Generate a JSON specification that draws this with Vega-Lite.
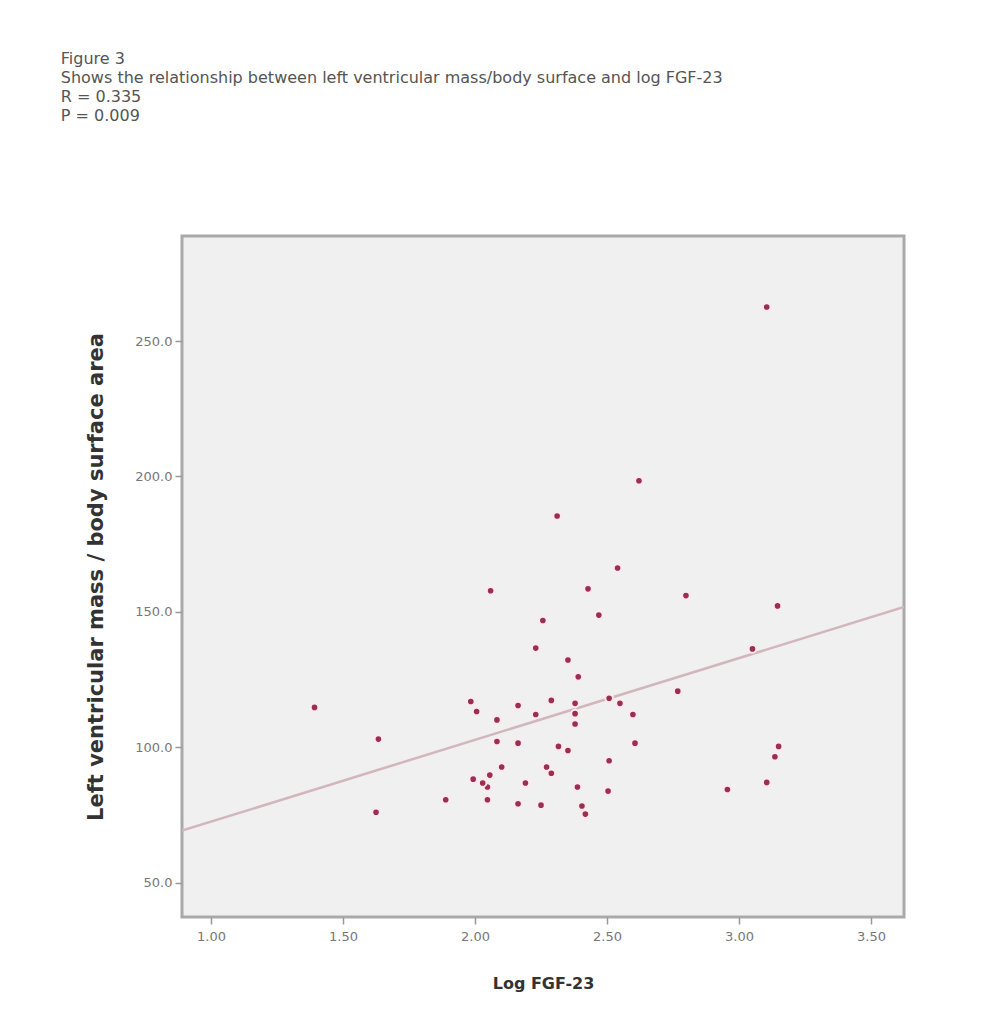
{
  "$schema": "https://vega.github.io/schema/vega-lite/v6.json",
  "width": 722,
  "height": 681,
  "padding": {"left": 60, "top": 51, "right": 5, "bottom": 5},
  "background": "#ffffff",
  "title": {
    "text": ["Figure 3", "Shows the relationship between left ventricular mass/body surface and log FGF-23", "R = 0.335", "P = 0.009"],
    "anchor": "start",
    "frame": "bounds",
    "font": "DejaVu Sans",
    "fontSize": 16,
    "fontWeight": "normal",
    "color": "#555555",
    "lineHeight": 19,
    "offset": 112,
    "dx": -25
  },
  "datasets": {
    "points": [
      {"logFGF23": 3.105, "lvmi": 262.6},
      {"logFGF23": 2.621, "lvmi": 198.4},
      {"logFGF23": 2.311, "lvmi": 185.4},
      {"logFGF23": 2.540, "lvmi": 166.2},
      {"logFGF23": 2.059, "lvmi": 157.8},
      {"logFGF23": 2.428, "lvmi": 158.5},
      {"logFGF23": 2.799, "lvmi": 156.0},
      {"logFGF23": 3.146, "lvmi": 152.2},
      {"logFGF23": 2.257, "lvmi": 146.8},
      {"logFGF23": 2.469, "lvmi": 148.8},
      {"logFGF23": 2.230, "lvmi": 136.6},
      {"logFGF23": 3.051, "lvmi": 136.3},
      {"logFGF23": 2.352, "lvmi": 132.2},
      {"logFGF23": 2.391, "lvmi": 126.0},
      {"logFGF23": 2.768, "lvmi": 120.7},
      {"logFGF23": 1.392, "lvmi": 114.7},
      {"logFGF23": 1.984, "lvmi": 116.9},
      {"logFGF23": 2.006, "lvmi": 113.2},
      {"logFGF23": 2.083, "lvmi": 110.1},
      {"logFGF23": 2.163, "lvmi": 115.4},
      {"logFGF23": 2.230, "lvmi": 112.1},
      {"logFGF23": 2.289, "lvmi": 117.3},
      {"logFGF23": 2.379, "lvmi": 116.2},
      {"logFGF23": 2.379, "lvmi": 112.4},
      {"logFGF23": 2.379, "lvmi": 108.6},
      {"logFGF23": 2.508, "lvmi": 118.1},
      {"logFGF23": 2.549, "lvmi": 116.2},
      {"logFGF23": 2.598, "lvmi": 112.1},
      {"logFGF23": 1.634, "lvmi": 103.0},
      {"logFGF23": 2.083, "lvmi": 102.1},
      {"logFGF23": 2.163, "lvmi": 101.5},
      {"logFGF23": 2.316, "lvmi": 100.3},
      {"logFGF23": 2.352, "lvmi": 98.8},
      {"logFGF23": 2.606, "lvmi": 101.5},
      {"logFGF23": 2.508, "lvmi": 95.0},
      {"logFGF23": 3.150, "lvmi": 100.3},
      {"logFGF23": 3.136, "lvmi": 96.5},
      {"logFGF23": 3.105, "lvmi": 87.0},
      {"logFGF23": 2.101, "lvmi": 92.7},
      {"logFGF23": 2.056, "lvmi": 89.7},
      {"logFGF23": 1.993, "lvmi": 88.2},
      {"logFGF23": 2.047, "lvmi": 85.3},
      {"logFGF23": 2.029, "lvmi": 86.8},
      {"logFGF23": 2.271, "lvmi": 92.7},
      {"logFGF23": 2.289, "lvmi": 90.4},
      {"logFGF23": 2.191, "lvmi": 86.8},
      {"logFGF23": 2.388, "lvmi": 85.3},
      {"logFGF23": 2.504, "lvmi": 83.8},
      {"logFGF23": 1.889, "lvmi": 80.6},
      {"logFGF23": 2.047, "lvmi": 80.6},
      {"logFGF23": 2.163, "lvmi": 79.1},
      {"logFGF23": 2.250, "lvmi": 78.6},
      {"logFGF23": 2.405, "lvmi": 78.3},
      {"logFGF23": 2.418, "lvmi": 75.3},
      {"logFGF23": 2.956, "lvmi": 84.4},
      {"logFGF23": 1.625, "lvmi": 76.0}
    ],
    "fit": [
      {"logFGF23": 0.89, "lvmi": 69.2},
      {"logFGF23": 3.625, "lvmi": 151.8}
    ]
  },
  "encoding": {
    "x": {
      "field": "logFGF23",
      "type": "quantitative",
      "scale": {"domain": [0.89, 3.625], "nice": false, "zero": false},
      "axis": {
        "values": [1, 1.5, 2, 2.5, 3, 3.5],
        "format": ".2f",
        "title": "Log FGF-23",
        "titleFontSize": 16,
        "titlePadding": 32,
        "labelPadding": 6
      }
    },
    "y": {
      "field": "lvmi",
      "type": "quantitative",
      "scale": {"domain": [37.3, 288.8], "nice": false, "zero": false},
      "axis": {
        "values": [50, 100, 150, 200, 250],
        "format": ".1f",
        "title": "Left ventricular mass / body surface area",
        "titleFontSize": 21,
        "titlePadding": 28,
        "labelPadding": 3
      }
    }
  },
  "layer": [
    {
      "data": {"name": "fit"},
      "mark": {"type": "line", "color": "#d2b6bd", "strokeWidth": 2.5, "clip": true}
    },
    {
      "data": {"name": "points"},
      "mark": {"type": "circle", "size": 58, "color": "#9a2f52", "opacity": 1, "stroke": "#ffe8ee", "strokeWidth": 2}
    }
  ],
  "config": {
    "view": {"fill": "#f0f0f0", "stroke": "#a9a9a9", "strokeWidth": 3},
    "axis": {
      "domain": false,
      "grid": false,
      "tickSize": 7,
      "tickColor": "#999999",
      "tickWidth": 1.5,
      "labelFont": "DejaVu Sans",
      "labelFontSize": 13,
      "labelColor": "#777777",
      "titleFont": "DejaVu Sans",
      "titleFontWeight": "bold",
      "titleColor": "#333333"
    }
  }
}
